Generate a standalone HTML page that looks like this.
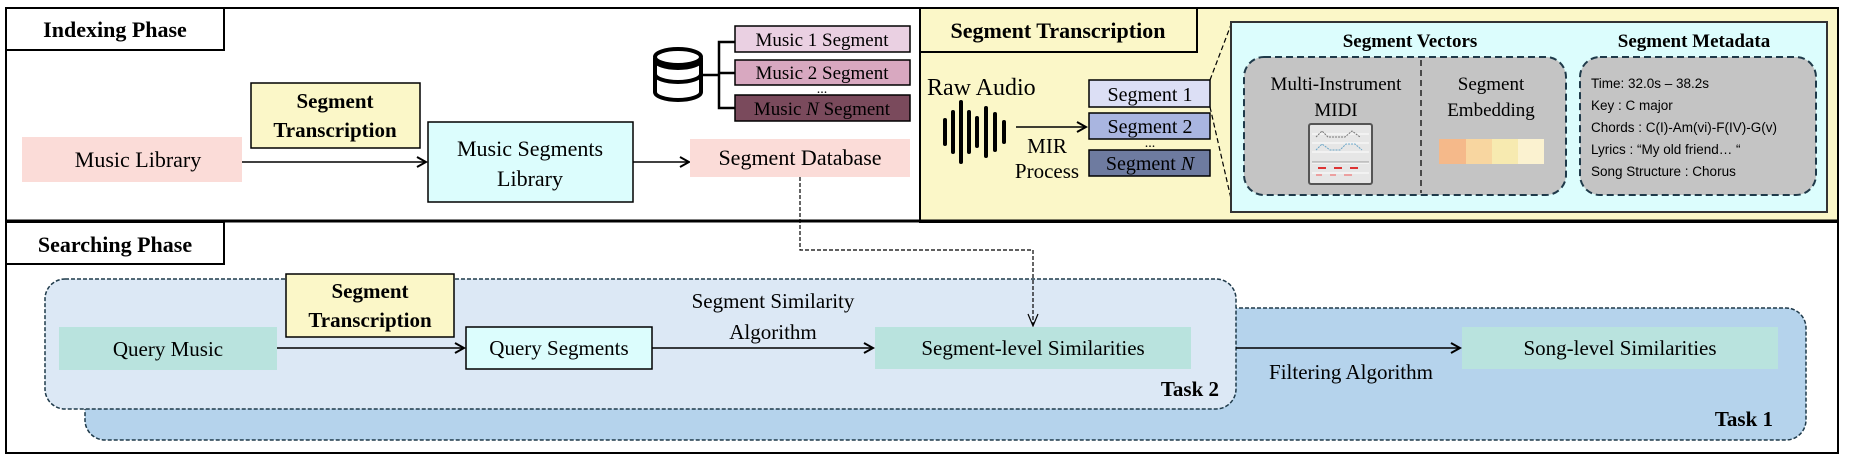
<!DOCTYPE html>
<html><head><meta charset="utf-8"><style>
html,body{margin:0;padding:0;background:#fff;}
svg{display:block;}
text{font-family:"Liberation Serif",serif;}
text.s{font-family:"Liberation Sans",sans-serif;}
</style></head><body>
<svg width="1849" height="465" viewBox="0 0 1849 465" xmlns="http://www.w3.org/2000/svg">
<defs>
<marker id="ar" markerWidth="12" markerHeight="12" refX="10" refY="6" orient="auto" markerUnits="userSpaceOnUse">
<path d="M1,1 L10,6 L1,11" fill="none" stroke="#000" stroke-width="2"/></marker>
</defs>
<rect x="6" y="8" width="1832" height="445" fill="#fff" stroke="#000" stroke-width="2"/>
<rect x="920" y="8" width="918" height="214" fill="#fbf7c8" stroke="#000" stroke-width="2"/>
<line x1="6" y1="221" x2="1838" y2="221" stroke="#000" stroke-width="3"/>

<rect x="6" y="8" width="218" height="42" fill="#fff" stroke="#000" stroke-width="2"/>
<text x="115" y="37" font-size="22" font-weight="bold" text-anchor="middle">Indexing Phase</text>

<rect x="22" y="137" width="220" height="45" fill="#fbdcd8"/>
<text x="138" y="167" font-size="22" text-anchor="middle">Music Library</text>
<line x1="242" y1="162" x2="426" y2="162" stroke="#000" stroke-width="1.5" marker-end="url(#ar)"/>
<rect x="251" y="83" width="169" height="65" fill="#fbf7c8" stroke="#000" stroke-width="1.5"/>
<text x="335" y="108" font-size="21" font-weight="bold" text-anchor="middle">Segment</text>
<text x="335" y="137" font-size="21" font-weight="bold" text-anchor="middle">Transcription</text>
<rect x="428" y="122" width="205" height="80" fill="#dcfdfd" stroke="#000" stroke-width="1.5"/>
<text x="530" y="156" font-size="22" text-anchor="middle">Music Segments</text>
<text x="530" y="186" font-size="22" text-anchor="middle">Library</text>
<line x1="633" y1="162" x2="689" y2="162" stroke="#000" stroke-width="1.5" marker-end="url(#ar)"/>
<rect x="690" y="139" width="220" height="38" fill="#fbdcd8"/>
<text x="800" y="165" font-size="22" text-anchor="middle">Segment Database</text>

<g fill="#fff" stroke="#000" stroke-width="4">
<path d="M655,58 L655,92 A23,8 0 0 0 701,92 L701,58"/>
<path d="M655,74 A23,8 0 0 0 701,74" fill="none"/>
<path d="M655,60 A23,8 0 0 0 701,60" fill="none"/>
<ellipse cx="678" cy="57" rx="23" ry="8"/>
</g>
<g stroke="#000" stroke-width="2.5" fill="none">
<line x1="702" y1="75" x2="719" y2="75"/>
<path d="M735,42 L719,42 L719,108 L735,108"/>
<line x1="719" y1="73" x2="735" y2="73"/>
</g>
<rect x="735" y="26" width="175" height="26" fill="#ead0e2" stroke="#000" stroke-width="1.5"/>
<text x="822" y="46" font-size="19" text-anchor="middle">Music 1 Segment</text>
<rect x="735" y="60" width="175" height="25" fill="#d8a8c0" stroke="#000" stroke-width="1.5"/>
<text x="822" y="79" font-size="19" text-anchor="middle">Music 2 Segment</text>
<text x="822" y="93" font-size="14" text-anchor="middle">...</text>
<rect x="735" y="95" width="175" height="26" fill="#7a4a5c" stroke="#000" stroke-width="1.5"/>
<text x="822" y="115" font-size="19" text-anchor="middle">Music <tspan font-style="italic">N</tspan> Segment</text>

<rect x="920" y="8" width="277" height="44" fill="#fbf7c8" stroke="#000" stroke-width="2"/>
<text x="1058" y="38" font-size="22" font-weight="bold" text-anchor="middle">Segment Transcription</text>
<text x="927" y="95" font-size="24">Raw Audio</text>
<g stroke="#000" stroke-width="4" stroke-linecap="round">
<line x1="945" y1="120" x2="945" y2="144"/>
<line x1="953" y1="112" x2="953" y2="152"/>
<line x1="961" y1="102" x2="961" y2="162"/>
<line x1="969" y1="112" x2="969" y2="152"/>
<line x1="977" y1="118" x2="977" y2="146"/>
<line x1="986" y1="108" x2="986" y2="156"/>
<line x1="995" y1="114" x2="995" y2="150"/>
<line x1="1004" y1="122" x2="1004" y2="142"/>
</g>
<line x1="1016" y1="127" x2="1086" y2="127" stroke="#000" stroke-width="1.5" marker-end="url(#ar)"/>
<text x="1047" y="153" font-size="21" text-anchor="middle">MIR</text>
<text x="1047" y="178" font-size="21" text-anchor="middle">Process</text>
<rect x="1089" y="80" width="121" height="27" fill="#dcdff5" stroke="#000" stroke-width="1.5"/>
<text x="1150" y="101" font-size="20" text-anchor="middle">Segment 1</text>
<rect x="1089" y="113" width="121" height="26" fill="#a9b5e0" stroke="#000" stroke-width="1.5"/>
<text x="1150" y="133" font-size="20" text-anchor="middle">Segment 2</text>
<text x="1150" y="147" font-size="14" text-anchor="middle">...</text>
<rect x="1089" y="150" width="121" height="26" fill="#6e7ba0" stroke="#000" stroke-width="1.5"/>
<text x="1150" y="170" font-size="20" text-anchor="middle">Segment <tspan font-style="italic">N</tspan></text>
<line x1="1210" y1="80" x2="1232" y2="22" stroke="#000" stroke-width="1.2" stroke-dasharray="5,3"/>
<line x1="1210" y1="107" x2="1232" y2="203" stroke="#000" stroke-width="1.2" stroke-dasharray="5,3"/>
<rect x="1231" y="22" width="596" height="190" fill="#dcfdfd" stroke="#333" stroke-width="2"/>
<text x="1410" y="47" font-size="19" font-weight="bold" text-anchor="middle">Segment Vectors</text>
<text x="1694" y="47" font-size="19" font-weight="bold" text-anchor="middle">Segment Metadata</text>
<rect x="1244" y="57" width="322" height="138" rx="20" fill="#c4c4c4" stroke="#1f3a4a" stroke-width="2" stroke-dasharray="7,4"/>
<line x1="1421" y1="60" x2="1421" y2="193" stroke="#222" stroke-width="1.5" stroke-dasharray="6,4"/>
<rect x="1580" y="57" width="236" height="138" rx="20" fill="#c4c4c4" stroke="#1f3a4a" stroke-width="2" stroke-dasharray="7,4"/>
<text x="1336" y="90" font-size="19" text-anchor="middle">Multi-Instrument</text>
<text x="1336" y="116" font-size="19" text-anchor="middle">MIDI</text>
<rect x="1309" y="124" width="63" height="60" rx="2" fill="#e6e6e6" stroke="#555" stroke-width="2"/>
<g stroke="#fff" stroke-width="1"><line x1="1312" y1="134" x2="1369" y2="134"/><line x1="1312" y1="143" x2="1369" y2="143"/><line x1="1312" y1="152" x2="1369" y2="152"/><line x1="1312" y1="163" x2="1369" y2="163"/><line x1="1312" y1="173" x2="1369" y2="173"/></g>
<line x1="1312" y1="162" x2="1369" y2="162" stroke="#999"/>
<path d="M1316,137 L1322,131 L1328,137 L1345,137 L1352,131 L1360,137" fill="none" stroke="#777" stroke-width="1" stroke-dasharray="2,1"/>
<path d="M1316,150 L1322,144 L1330,150 L1340,150 L1346,144 L1355,144 L1362,150" fill="none" stroke="#6aa6c8" stroke-width="1" stroke-dasharray="2,1"/>
<g stroke="#d33" stroke-width="2"><line x1="1318" y1="168" x2="1326" y2="168"/><line x1="1334" y1="168" x2="1342" y2="168"/><line x1="1350" y1="168" x2="1358" y2="168"/></g>
<g stroke="#e88" stroke-width="1.5"><line x1="1316" y1="175" x2="1322" y2="175"/><line x1="1330" y1="175" x2="1336" y2="175"/><line x1="1344" y1="175" x2="1352" y2="175"/></g>
<text x="1491" y="90" font-size="19" text-anchor="middle">Segment</text>
<text x="1491" y="116" font-size="19" text-anchor="middle">Embedding</text>
<rect x="1439" y="139" width="27" height="25" fill="#f5b98a"/>
<rect x="1466" y="139" width="26" height="25" fill="#f8d6a0"/>
<rect x="1492" y="139" width="26" height="25" fill="#f7eab0"/>
<rect x="1518" y="139" width="26" height="25" fill="#fbf2d0"/>
<text class="s" x="1591" y="88" font-size="13.5">Time: 32.0s – 38.2s</text>
<text class="s" x="1591" y="110" font-size="13.5">Key : C major</text>
<text class="s" x="1591" y="132" font-size="13.5">Chords : C(I)-Am(vi)-F(IV)-G(v)</text>
<text class="s" x="1591" y="154" font-size="13.5">Lyrics : “My old friend… “</text>
<text class="s" x="1591" y="176" font-size="13.5">Song Structure : Chorus</text>

<rect x="6" y="222" width="218" height="42" fill="#fff" stroke="#000" stroke-width="2"/>
<text x="115" y="252" font-size="22" font-weight="bold" text-anchor="middle">Searching Phase</text>
<rect x="85" y="308" width="1721" height="132" rx="20" fill="#b5d3ec" stroke="#1f3a4a" stroke-width="1.5" stroke-dasharray="4,2"/>
<rect x="45" y="279" width="1191" height="130" rx="20" fill="#dce8f5" stroke="#1f3a4a" stroke-width="1.5" stroke-dasharray="4,2"/>
<path d="M800,177 L800,250 L1033,250 L1033,325" fill="none" stroke="#000" stroke-width="1.2" stroke-dasharray="4,2"/>
<path d="M1028,314 L1033,326 L1038,314" fill="none" stroke="#000" stroke-width="1.2"/>
<rect x="59" y="327" width="218" height="43" fill="#b9e3de"/>
<text x="168" y="356" font-size="21" text-anchor="middle">Query Music</text>
<rect x="286" y="274" width="168" height="63" fill="#fbf7c8" stroke="#000" stroke-width="1.5"/>
<text x="370" y="298" font-size="21" font-weight="bold" text-anchor="middle">Segment</text>
<text x="370" y="327" font-size="21" font-weight="bold" text-anchor="middle">Transcription</text>
<line x1="277" y1="348" x2="464" y2="348" stroke="#000" stroke-width="1.5" marker-end="url(#ar)"/>
<rect x="466" y="327" width="186" height="42" fill="#dcfdfd" stroke="#000" stroke-width="1.5"/>
<text x="559" y="355" font-size="21" text-anchor="middle">Query Segments</text>
<text x="773" y="308" font-size="21" text-anchor="middle">Segment Similarity</text>
<text x="773" y="339" font-size="21" text-anchor="middle">Algorithm</text>
<line x1="652" y1="348" x2="873" y2="348" stroke="#000" stroke-width="1.5" marker-end="url(#ar)"/>
<rect x="875" y="327" width="316" height="42" fill="#b9e3de"/>
<text x="1033" y="355" font-size="21" text-anchor="middle">Segment-level Similarities</text>
<text x="1219" y="396" font-size="21" font-weight="bold" text-anchor="end">Task 2</text>
<line x1="1236" y1="348" x2="1460" y2="348" stroke="#000" stroke-width="1.5" marker-end="url(#ar)"/>
<text x="1351" y="379" font-size="21" text-anchor="middle">Filtering Algorithm</text>
<rect x="1462" y="327" width="316" height="42" fill="#b9e3de"/>
<text x="1620" y="355" font-size="21" text-anchor="middle">Song-level Similarities</text>
<text x="1773" y="426" font-size="21" font-weight="bold" text-anchor="end">Task 1</text>
</svg>
</body></html>
